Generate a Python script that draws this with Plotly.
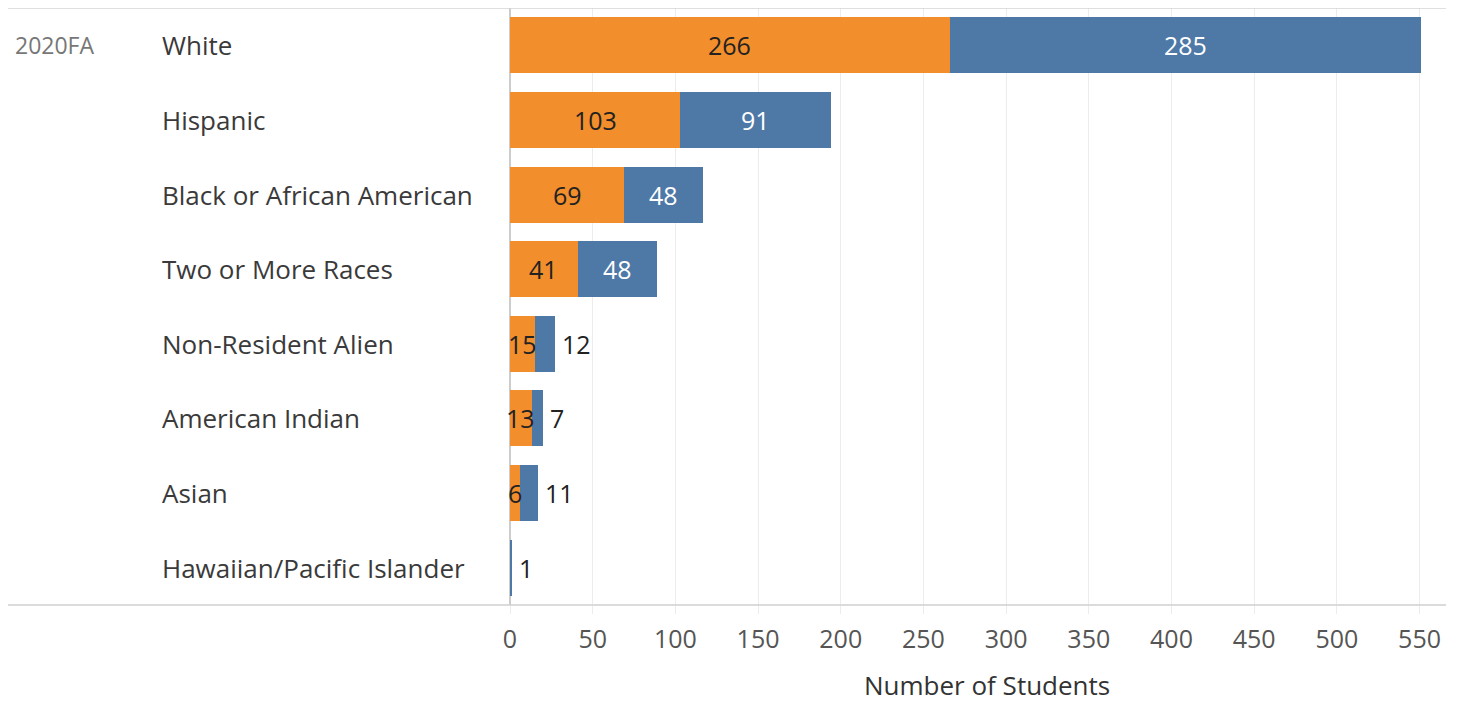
import plotly.graph_objects as go

categories = ["White", "Hispanic", "Black or African American", "Two or More Races",
              "Non-Resident Alien", "American Indian", "Asian", "Hawaiian/Pacific Islander"]
orange_vals = [266, 103, 69, 41, 15, 13, 6, 0]
blue_vals = [285, 91, 48, 48, 12, 7, 11, 1]
term_label = "2020FA"
x_ticks = [0, 50, 100, 150, 200, 250, 300, 350, 400, 450, 500, 550]
x_title = "Number of Students"

ORANGE = "#F28E2B"
BLUE = "#4E79A7"
FONT = "Open Sans"

# page is offset by 8px body margin
W, H = 1453, 696
L, R, T, B = 502, 15, 0, 99
pw = W - L - R
ph = H - T - B
XMAX = 566
px_per_unit = pw / XMAX

fig = go.Figure()
fig.add_trace(go.Bar(y=categories, x=orange_vals, orientation="h",
                     marker=dict(color=ORANGE, line=dict(width=0)), hoverinfo="x+y"))
fig.add_trace(go.Bar(y=categories, x=blue_vals, orientation="h",
                     marker=dict(color=BLUE, line=dict(width=0)), hoverinfo="x+y"))

annotations = []
lbl_size = 25
for cat, o, b in zip(categories, orange_vals, blue_vals):
    if o > 0:
        annotations.append(dict(x=o / 2, y=cat, xref="x", yref="y", text=str(o),
                                showarrow=False, font=dict(family=FONT, size=lbl_size, color="#222222")))
    if b > 0:
        txt_w = len(str(b)) * 14 + 8
        if b * px_per_unit > txt_w:
            annotations.append(dict(x=o + b / 2, y=cat, xref="x", yref="y", text=str(b),
                                    showarrow=False, font=dict(family=FONT, size=lbl_size, color="white")))
        else:
            annotations.append(dict(x=o + b, y=cat, xref="x", yref="y", text=str(b),
                                    xanchor="left", xshift=5, showarrow=False,
                                    font=dict(family=FONT, size=lbl_size, color="#222222")))
    annotations.append(dict(x=-350 / pw, y=cat, xref="paper", yref="y", text=cat,
                            xanchor="left", showarrow=False,
                            font=dict(family=FONT, size=26, color="#3a3a3a")))

annotations.append(dict(x=-497 / pw, y=categories[0], xref="paper", yref="y", text=term_label,
                        xanchor="left", showarrow=False,
                        font=dict(family=FONT, size=23, color="#777777")))

# axis title placed as annotation to match position
annotations.append(dict(x=(987 - 510) / pw, y=(605 - 685) / ph, xref="paper", yref="paper",
                        text=x_title, showarrow=False, xanchor="center", yanchor="middle",
                        font=dict(family=FONT, size=26, color="#333333")))

shapes = [
    dict(type="line", xref="paper", yref="paper", x0=-L / pw, x1=1, y0=1, y1=1,
         line=dict(color="#d4d4d4", width=1.5)),
    dict(type="line", xref="paper", yref="paper", x0=-L / pw, x1=1, y0=0, y1=0,
         line=dict(color="#cfcfcf", width=1.5)),
]

fig.update_layout(
    width=W, height=H,
    margin=dict(l=L, r=R, t=T, b=B, pad=0),
    barmode="stack", bargap=0.25,
    showlegend=False,
    plot_bgcolor="white", paper_bgcolor="white",
    annotations=annotations, shapes=shapes,
    font=dict(family=FONT, color="#444444"),
    xaxis=dict(range=[0, XMAX], tickvals=x_ticks, showgrid=True, gridcolor="#ececec", gridwidth=1,
               zeroline=True, zerolinecolor="#cccccc", zerolinewidth=1.5,
               ticks="outside", ticklen=8, tickcolor="#ececec",
               tickfont=dict(family=FONT, size=25, color="#555555"),
               ticklabelstandoff=4,
               showline=False, fixedrange=True),
    yaxis=dict(categoryorder="array", categoryarray=categories, autorange="reversed",
               showticklabels=False, showgrid=False, zeroline=False, showline=False, fixedrange=True),
)

fig.write_html("out.html")
